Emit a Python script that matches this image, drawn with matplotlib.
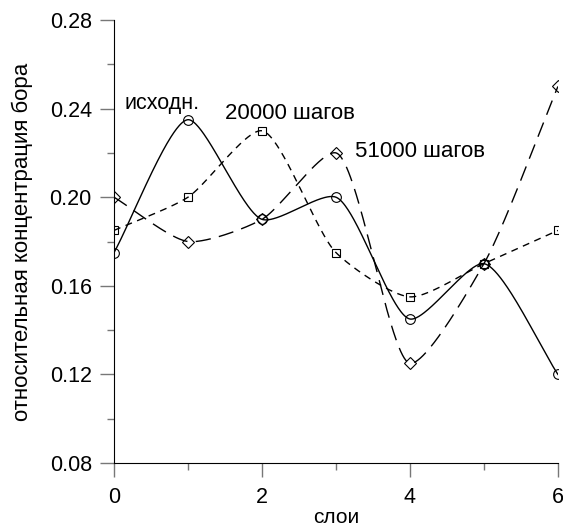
import numpy as np
import matplotlib.pyplot as plt

plt.rcParams['font.family'] = ['Liberation Sans', 'DejaVu Sans']

layers = [0, 1, 2, 3, 4, 5, 6]
initial = [0.175, 0.235, 0.19, 0.20, 0.145, 0.17, 0.12]
steps_20000 = [0.185, 0.20, 0.23, 0.175, 0.155, 0.17, 0.185]
steps_51000 = [0.20, 0.18, 0.19, 0.22, 0.125, 0.17, 0.25]

# screen scale (px per data unit) used to shape the curves
SX, SY = 74.0, 2215.0


def smooth_curve(x, y, alpha=0.5, tension=0.3, n=80):
    # centripetal Catmull-Rom in screen space, tangents shortened a bit
    P = np.column_stack([np.asarray(x, float) * SX, np.asarray(y, float) * SY])
    Q = np.vstack([2 * P[0] - P[1], P, 2 * P[-1] - P[-2]])
    t = np.concatenate([[0], np.cumsum(np.linalg.norm(np.diff(Q, axis=0), axis=1) ** alpha)])
    # tangent (per unit parameter) at each real point
    m = []
    for i in range(1, len(Q) - 1):
        d0 = (Q[i] - Q[i - 1]) / (t[i] - t[i - 1])
        d1 = (Q[i + 1] - Q[i]) / (t[i + 1] - t[i])
        d01 = (Q[i + 1] - Q[i - 1]) / (t[i + 1] - t[i - 1])
        m.append((d0 - d01 + d1) * (1 - tension))
    m = np.array(m)
    tt = t[1:-1]
    s = np.linspace(0, 1, n)[:, None]
    h00 = 2 * s ** 3 - 3 * s ** 2 + 1
    h10 = s ** 3 - 2 * s ** 2 + s
    h01 = -2 * s ** 3 + 3 * s ** 2
    h11 = s ** 3 - s ** 2
    out = []
    for i in range(len(P) - 1):
        dt = tt[i + 1] - tt[i]
        c = h00 * P[i] + h10 * dt * m[i] + h01 * P[i + 1] + h11 * dt * m[i + 1]
        out.append(c if i == 0 else c[1:])
    out = np.vstack(out)
    return out[:, 0] / SX, out[:, 1] / SY


fig = plt.figure(figsize=(5.63, 5.32), dpi=100)
ax = fig.add_axes([0.2025, 0.1297, 0.7885, 0.8327])

series = [
    (initial, '-', 'o', 7),
    (steps_20000, (0, (5, 4)), 's', 6),
    (steps_51000, (0, (11, 6)), 'D', 6.5),
]
for vals, ls, mk, ms in series:
    xs, ys = smooth_curve(layers, vals)
    ax.plot(xs, ys, color='black', lw=1.0, ls=ls)
    ax.plot(layers, vals, ls='none', marker=mk, ms=ms, mfc='none',
            mec='black', mew=0.8)

ax.text(0.14, 0.2421, 'исходн.', fontsize=15.5, va='center')
ax.text(1.5, 0.2378, '20000 шагов', fontsize=16, va='center')
ax.text(3.26, 0.2206, '51000 шагов', fontsize=16, va='center')

ax.set_xlim(0, 6)
ax.set_ylim(0.08, 0.28)
ax.set_xticks([0, 2, 4, 6])
ax.set_xticks([1, 3, 5], minor=True)
ax.set_yticks([0.08, 0.12, 0.16, 0.20, 0.24, 0.28])
ax.set_yticks([0.10, 0.14, 0.18, 0.22, 0.26], minor=True)
ax.set_yticklabels(['0.08', '0.12', '0.16', '0.20', '0.24', '0.28'])

ax.spines['top'].set_visible(False)
ax.spines['right'].set_visible(False)
ax.tick_params(which='major', length=10, width=1, color='#777777',
               labelsize=15.5, direction='out')
ax.tick_params(axis='x', which='major', pad=7)
ax.tick_params(axis='y', which='major', pad=6)
ax.tick_params(which='minor', length=5, width=1, color='#777777',
               direction='out')

ax.set_xlabel('слои', fontsize=15, labelpad=0)
ax.set_ylabel('относительная концентрация бора', fontsize=16, labelpad=12)

fig.savefig('out.png', dpi=100)
